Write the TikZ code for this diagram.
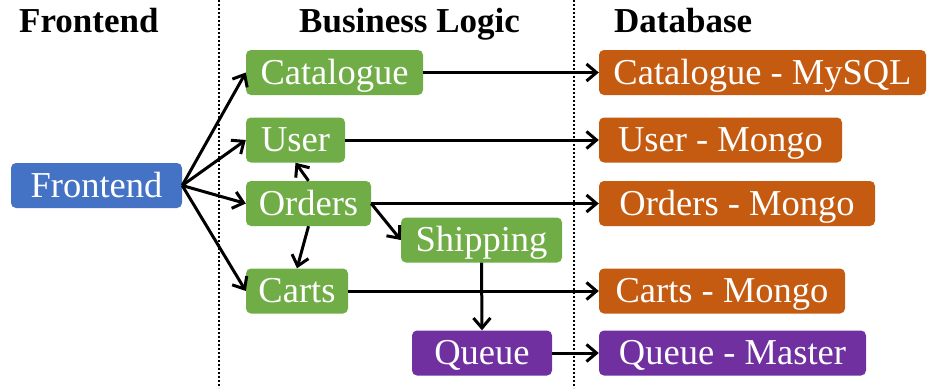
\documentclass[tikz,border=0pt]{standalone}
\usepackage{fontspec}
\setmainfont{Liberation Serif}
\usetikzlibrary{arrows.meta}
\definecolor{cblue}{HTML}{4472C4}
\definecolor{cgreen}{HTML}{70AD47}
\definecolor{corange}{HTML}{C55A11}
\definecolor{cpurple}{HTML}{7030A0}
\tikzset{
  box/.style={rounded corners=5pt, inner sep=0pt, minimum height=45pt, text=white,
    text height=30pt, text depth=7pt, font=\fontsize{36.5}{40}\selectfont},
  fe/.style={box, fill=cblue},
  bl/.style={box, fill=cgreen},
  db/.style={box, fill=corange},
  qu/.style={box, fill=cpurple},
  hdr/.style={font=\fontsize{35}{40}\selectfont\bfseries, inner sep=0pt, anchor=base west},
  arr/.style={line width=3pt, -{Straight Barb[length=10pt,width=17pt]}},
  sep/.style={line width=2.2pt, dash pattern=on 2pt off 2pt}
}
\begin{document}
\begin{tikzpicture}[x=1pt,y=-1pt]
\useasboundingbox (0,0) rectangle (928,388);
% separators
\coordinate (s1t) at (219,0); \coordinate (s1b) at (219,388);
\coordinate (s2t) at (574,0); \coordinate (s2b) at (574,388);
\draw[sep] (s1t) -- (s1b);
\draw[sep] (s2t) -- (s2b);
% headers
\node[hdr] (h1) at (19,32) {Frontend};
\node[hdr] (h2) at (299,32) {Business Logic};
\node[hdr] (h3) at (614,32) {Database};
% nodes
\node[fe, minimum width=171pt] (fe) at (96.5,185.5) {Frontend};
\node[bl, minimum width=177pt] (cat) at (334.5,72.5) {Catalogue};
\node[bl, minimum width=99pt] (user) at (295.5,140) {User};
\node[bl, minimum width=125pt] (ord) at (308.5,203.5) {Orders};
\node[bl, minimum width=102pt] (cart) at (297,291) {Carts};
\node[bl, minimum width=161pt] (ship) at (481.5,240) {Shipping};
\node[qu, minimum width=140pt] (q) at (482,353) {Queue};
\node[db, minimum width=327pt] (catdb) at (762.5,72.5) {Catalogue - MySQL};
\node[db, minimum width=243pt] (userdb) at (720.5,140) {User - Mongo};
\node[db, minimum width=276pt] (orddb) at (737,203.5) {Orders - Mongo};
\node[db, minimum width=246pt] (cartdb) at (722,291) {Carts - Mongo};
\node[qu, minimum width=267pt] (qdb) at (732.5,353) {Queue - Master};
% arrows
\draw[arr] (fe.east) -- (cat.west);
\draw[arr] (fe.east) -- (user.west);
\draw[arr] (fe.east) -- (ord.west);
\draw[arr] (fe.east) -- (cart.west);
\draw[arr] (ord.north) -- (user.south);
\draw[arr] (ord.south) -- (cart.north);
\draw[arr] (ord.east) -- (ship.west);
\draw[arr] (cat.east) -- (catdb.west);
\draw[arr] (user.east) -- (userdb.west);
\draw[arr] (ord.east) -- (orddb.west);
\draw[arr] (cart.east) -- (cartdb.west);
\draw[arr] (ship.south) -- (q.north);
\draw[arr] (q.east) -- (qdb.west);
\end{tikzpicture}
\end{document}
